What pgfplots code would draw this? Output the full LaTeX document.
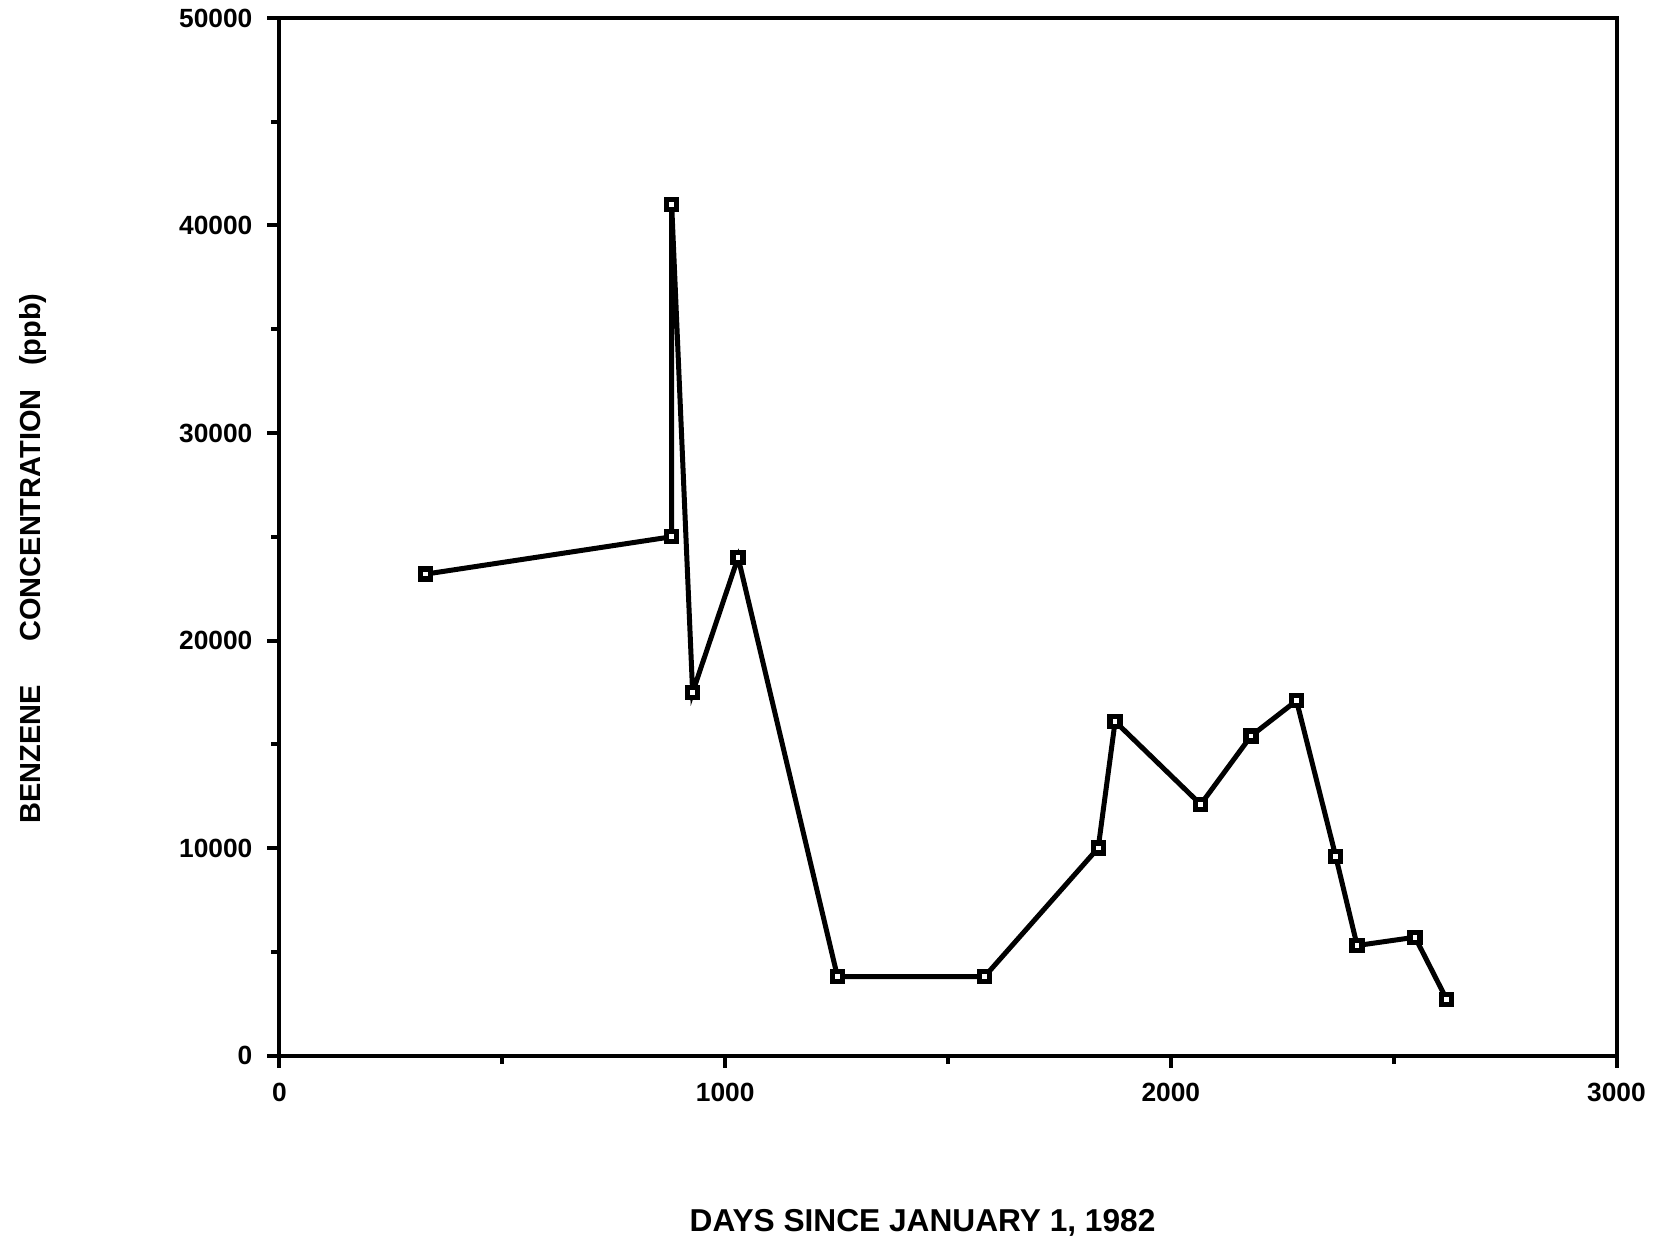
\documentclass[border=0pt]{standalone}
\usepackage{fontspec}
\setmainfont{Liberation Sans}
\usepackage{pgfplots}
\pgfplotsset{compat=1.18}

\begin{document}
\begin{tikzpicture}
% fixed page frame around the axis
\path[use as bounding box] (-83.85pt,-55.95pt) rectangle (414.15pt,316.65pt);
\begin{axis}[
  scale only axis,
  width=401.1pt, height=311.25pt,
  at={(0,0)}, anchor=south west,
  xmin=0, xmax=3000, ymin=0, ymax=50000,
  xtick={0,1000,2000,3000},
  ytick={0,10000,20000,30000,40000,50000},
  minor tick num=1,
  xtick pos=bottom, ytick pos=left,
  tick align=outside,
  major tick length=3.6pt, minor tick length=2.4pt,
  every tick/.style={black, line width=1.2pt},
  axis line style={line width=1.2pt},
  scaled ticks=false,
  /pgf/number format/set thousands separator={},
  /pgf/number format/assume math mode=true,
  tick label style={font=\fontsize{7.9}{9}\selectfont\bfseries},
  yticklabel style={xshift=-1pt},
  xticklabel style={yshift=-1pt},
  xlabel={DAYS SINCE JANUARY 1, 1982},
  ylabel={BENZENE\hspace{13pt}CONCENTRATION\hspace{7pt}(ppb)},
  label style={font=\fontsize{9.5}{11}\selectfont\bfseries},
  xlabel style={at={(axis description cs:0.481,-0.170)}, anchor=base},
  ylabel style={at={(axis description cs:-0.179,0.479)}, anchor=base,
                font=\fontsize{8.7}{10}\selectfont\bfseries},
  clip=false,
]
\addplot[black, line width=1.5pt, line join=miter,
  mark=square*, mark size=1.5pt,
  mark options={fill=white, draw=black, line width=1.6pt, solid}]
coordinates {
  (328,23200) (880,25000) (880,41000) (927,17500) (1029,24000)
  (1252,3800) (1582,3800) (1837,10000) (1875,16100) (2067,12100)
  (2180,15400) (2282,17100) (2370,9600) (2418,5300) (2548,5700)
  (2619,2700)
};
\end{axis}
\end{tikzpicture}
\end{document}
